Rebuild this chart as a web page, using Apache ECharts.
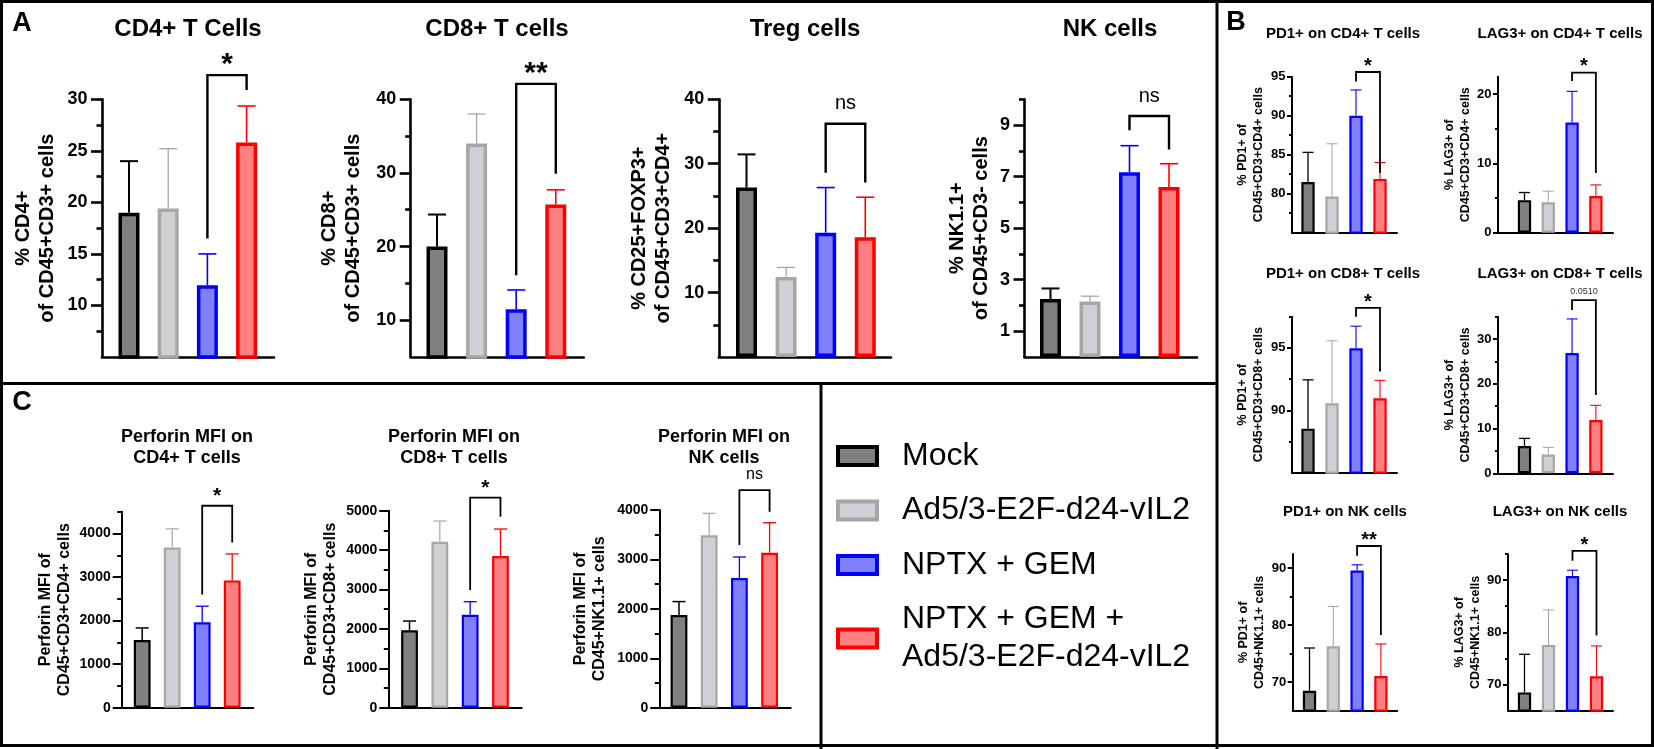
<!DOCTYPE html>
<html>
<head>
<meta charset="utf-8">
<script src="https://cdn.jsdelivr.net/npm/echarts@6/dist/echarts.min.js"></script>
<style>html,body{margin:0;padding:0;background:#fff}#c{width:1654px;height:749px}</style>
</head>
<body>
<div id="c"></div>
<script>
// ---------- DATA ----------
const groups = ['Mock', 'Ad5/3-E2F-d24-vIL2', 'NPTX + GEM', 'NPTX + GEM +\nAd5/3-E2F-d24-vIL2'];

// Panel A
const cd4Means = [19.0, 19.4, 11.95, 25.8];
const cd4Errs = [5.0, 5.8, 3.05, 3.55];
const cd4Range = [5, 30];
const cd4Ticks = [10, 15, 20, 25, 30];
const cd4Minor = [7.5, 12.5, 17.5, 22.5, 27.5];
const cd4Bracket = [32.35, 16.5, 30.9];
const cd4Sig = '*';

const cd8Means = [20.0, 34.0, 11.5, 25.7];
const cd8Errs = [4.35, 4.0, 2.6, 2.0];
const cd8Range = [5, 40];
const cd8Ticks = [10, 20, 30, 40];
const cd8Minor = [15, 25, 35];
const cd8Bracket = [42.1, 16.1, 29.9];
const cd8Sig = '**';

const tregMeans = [26.3, 12.4, 19.3, 18.6];
const tregErrs = [5.15, 1.5, 7.0, 6.2];
const tregRange = [0, 40];
const tregTicks = [10, 20, 30, 40];
const tregMinor = [5, 15, 25, 35];
const tregBracket = [36.2, 28.6, 27.1];
const tregSig = 'ns';

const nkMeans = [2.25, 2.15, 7.17, 6.6];
const nkErrs = [0.41, 0.21, 1.03, 0.9];
const nkRange = [0, 10];
const nkTicks = [1, 3, 5, 7, 9];
const nkMinor = [2, 4, 6, 8, 10];
const nkBracket = [9.35, 8.8, 8.05];
const nkSig = 'ns';

// Panel B
const pd1cd4Means = [81.5, 79.65, 90.0, 81.9];
const pd1cd4Errs = [3.8, 6.75, 3.3, 2.1];
const pd1cd4Range = [75, 95];
const pd1cd4Ticks = [80, 85, 90, 95];
const pd1cd4Minor = [77.5, 82.5, 87.5, 92.5];
const pd1cd4Bracket = [95.6, 94.4, 82.7];
const pd1cd4Sig = '*';

const lag3cd4Means = [4.7, 4.4, 15.9, 5.3];
const lag3cd4Errs = [1.1, 1.6, 4.5, 1.6];
const lag3cd4Range = [0, 22.5];
const lag3cd4Ticks = [0, 10, 20];
const lag3cd4Minor = [5, 15];
const lag3cd4Bracket = [23.1, 21.9, 8.6];
const lag3cd4Sig = '*';

const pd1cd8Means = [88.53, 90.56, 94.97, 90.96];
const pd1cd8Errs = [3.91, 5.01, 1.77, 1.44];
const pd1cd8Range = [85, 97.5];
const pd1cd8Ticks = [90, 95];
const pd1cd8Minor = [87.5, 92.5, 97.5];
const pd1cd8Bracket = [98.2, 97.5, 93.1];
const pd1cd8Sig = '*';

const lag3cd8Means = [6.1, 4.2, 26.9, 11.9];
const lag3cd8Errs = [1.7, 1.6, 7.6, 3.3];
const lag3cd8Range = [0, 35];
const lag3cd8Ticks = [0, 10, 20, 30];
const lag3cd8Minor = [5, 15, 25, 35];
const lag3cd8Bracket = [38.7, 36.5, 17.5];
const lag3cd8Sig = '0.0510';

const pd1nkMeans = [68.5, 76.3, 89.6, 71.1];
const pd1nkErrs = [7.5, 7.0, 1.0, 5.6];
const pd1nkRange = [65, 92.5];
const pd1nkTicks = [70, 80, 90];
const pd1nkMinor = [75, 85];
const pd1nkBracket = [93.9, 92.2, 78.3];
const pd1nkSig = '**';

const lag3nkMeans = [68.5, 77.6, 90.8, 71.6];
const lag3nkErrs = [7.3, 6.7, 1.1, 5.8];
const lag3nkRange = [65, 95];
const lag3nkTicks = [70, 80, 90];
const lag3nkMinor = [75, 85, 95];
const lag3nkBracket = [95.6, 93.7, 79.4];
const lag3nkSig = '*';

// Panel C
const perf4Means = [1555, 3677, 1961, 2923];
const perf4Errs = [276, 429, 369, 607];
const perf4Range = [0, 4500];
const perf4Ticks = [0, 1000, 2000, 3000, 4000];
const perf4Minor = [500, 1500, 2500, 3500, 4500];
const perf4Bracket = [4637, 2600, 3792];
const perf4Sig = '*';

const perf8Means = [1964, 4213, 2360, 3850];
const perf8Errs = [236, 525, 330, 685];
const perf8Range = [0, 5000];
const perf8Ticks = [0, 1000, 2000, 3000, 4000, 5000];
const perf8Minor = [500, 1500, 2500, 3500, 4500];
const perf8Bracket = [5330, 2987, 4848];
const perf8Sig = '*';

const perfnkMeans = [1877, 3488, 2624, 3136];
const perfnkErrs = [270, 445, 425, 607];
const perfnkRange = [0, 4000];
const perfnkTicks = [0, 1000, 2000, 3000, 4000];
const perfnkMinor = [500, 1500, 2500, 3500];
const perfnkBracket = [4404, 3292, 3965];
const perfnkSig = 'ns';

// ---------- STYLE / LAYOUT ----------
const FF = '"Liberation Sans", Arial, Helvetica, sans-serif';
const fillColors = ['#808080', '#d0d0d4', '#8080ff', '#ff8080'];
const lineColors = ['#000000', '#a6a6a6', '#0000ff', '#ff0000'];
const errColors = ['#000000', '#a0a0a0', '#0000ff', '#ff0000'];

const styleA = {barW: 21, border: 3.5, axisW: 2.6, tickLen: 11, minorLen: 5.5, labelSize: 18, labelMargin: 14.5,
  nameSize: 20, nameLH: 24, titleSize: 24, titleLH: 24, errW: [2, 1.2, 1.6, 1.6], capW: 18, brW: 2.4,
  starSize: 30, nsSize: 20, numSize: 9, gap: 16.5};
const styleB = {barW: 13.3, border: 2.2, axisW: 2, tickLen: 5, minorLen: 3, labelSize: 13, labelMargin: 6.5,
  nameSize: 12.5, nameLH: 16, titleSize: 15, titleLH: 16, errW: [1.3, 1, 1.1, 1.1], capW: 11, brW: 1.8,
  starSize: 20, nsSize: 16, numSize: 9, gap: 10};
const styleC = {barW: 16.8, border: 2.2, axisW: 2, tickLen: 9, minorLen: 4.5, labelSize: 14, labelMargin: 11,
  nameSize: 16, nameLH: 19, titleSize: 18, titleLH: 21, errW: [1.5, 1.1, 1.3, 1.3], capW: 13, brW: 1.8,
  starSize: 21, nsSize: 16, numSize: 9, gap: 13.5};

const charts = [
  {title: 'CD4+ T Cells', tx: 188, ty: 17, yName: '% CD4+\nof CD45+CD3+ cells', nameGap: 43, box: [102, 99.3, 172, 257.7], xr: [-0.689, 3.699], st: styleA,
   means: cd4Means, errs: cd4Errs, range: cd4Range, ticks: cd4Ticks, minor: cd4Minor, bracket: cd4Bracket, sig: cd4Sig},
  {title: 'CD8+ T cells', tx: 497, ty: 17, yName: '% CD8+\nof CD45+CD3+ cells', nameGap: 45, box: [410.7, 99.3, 173, 257.7], xr: [-0.664, 3.705], st: styleA,
   means: cd8Means, errs: cd8Errs, range: cd8Range, ticks: cd8Ticks, minor: cd8Minor, bracket: cd8Bracket, sig: cd8Sig},
  {title: 'Treg cells', tx: 805, ty: 17, yName: '% CD25+FOXP3+\nof CD45+CD3+CD4+', nameGap: 43.5, box: [718.8, 99.3, 172.2, 257.7], xr: [-0.70, 3.65], st: styleA,
   means: tregMeans, errs: tregErrs, range: tregRange, ticks: tregTicks, minor: tregMinor, bracket: tregBracket, sig: tregSig},
  {title: 'NK cells', tx: 1110, ty: 17, yName: '% NK1.1+\nof CD45+CD3- cells', nameGap: 31.5, box: [1024.5, 99.3, 172.5, 257.7], xr: [-0.658, 3.709], st: styleA,
   means: nkMeans, errs: nkErrs, range: nkRange, ticks: nkTicks, minor: nkMinor, bracket: nkBracket, sig: nkSig},

  {title: 'PD1+ on CD4+ T cells', tx: 1343, ty: 26, yName: '% PD1+ of\nCD45+CD3+CD4+ cells', nameGap: 25.7, box: [1292, 76.7, 105, 156], xr: [-0.667, 3.708], st: styleB,
   means: pd1cd4Means, errs: pd1cd4Errs, range: pd1cd4Range, ticks: pd1cd4Ticks, minor: pd1cd4Minor, bracket: pd1cd4Bracket, sig: pd1cd4Sig},
  {title: 'LAG3+ on CD4+ T cells', tx: 1560, ty: 26, yName: '% LAG3+ of\nCD45+CD3+CD4+ cells', nameGap: 14, box: [1498, 76.8, 115, 155.9], xr: [-1.113, 3.72], st: styleB,
   means: lag3cd4Means, errs: lag3cd4Errs, range: lag3cd4Range, ticks: lag3cd4Ticks, minor: lag3cd4Minor, bracket: lag3cd4Bracket, sig: lag3cd4Sig},
  {title: 'PD1+ on CD8+ T cells', tx: 1343, ty: 266, yName: '% PD1+ of\nCD45+CD3+CD8+ cells', nameGap: 25.7, box: [1292, 316.7, 105, 156], xr: [-0.667, 3.708], st: styleB,
   means: pd1cd8Means, errs: pd1cd8Errs, range: pd1cd8Range, ticks: pd1cd8Ticks, minor: pd1cd8Minor, bracket: pd1cd8Bracket, sig: pd1cd8Sig},
  {title: 'LAG3+ on CD8+ T cells', tx: 1560, ty: 266, yName: '% LAG3+ of\nCD45+CD3+CD8+ cells', nameGap: 14, box: [1498, 316.7, 115, 156.6], xr: [-1.113, 3.72], st: styleB,
   means: lag3cd8Means, errs: lag3cd8Errs, range: lag3cd8Range, ticks: lag3cd8Ticks, minor: lag3cd8Minor, bracket: lag3cd8Bracket, sig: lag3cd8Sig},
  {title: 'PD1+ on NK cells', tx: 1345, ty: 504, yName: '% PD1+ of\nCD45+NK1.1+ cells', nameGap: 25.4, box: [1292.7, 554, 104.5, 156.7], xr: [-0.706, 3.685], st: styleB,
   means: pd1nkMeans, errs: pd1nkErrs, range: pd1nkRange, ticks: pd1nkTicks, minor: pd1nkMinor, bracket: pd1nkBracket, sig: pd1nkSig},
  {title: 'LAG3+ on NK cells', tx: 1560, ty: 504, yName: '% LAG3+ of\nCD45+NK1.1+ cells', nameGap: 24, box: [1508, 554, 105, 156.7], xr: [-0.6875, 3.6875], st: styleB,
   means: lag3nkMeans, errs: lag3nkErrs, range: lag3nkRange, ticks: lag3nkTicks, minor: lag3nkMinor, bracket: lag3nkBracket, sig: lag3nkSig},

  {title: 'Perforin MFI on\nCD4+ T cells', tx: 187, ty: 427, yName: 'Perforin MFI of\nCD45+CD3+CD4+ cells', nameGap: 47.7, box: [121.7, 511.7, 131.6, 196], xr: [-0.683, 3.703], st: styleC,
   means: perf4Means, errs: perf4Errs, range: perf4Range, ticks: perf4Ticks, minor: perf4Minor, bracket: perf4Bracket, sig: perf4Sig},
  {title: 'Perforin MFI on\nCD8+ T cells', tx: 454, ty: 427, yName: 'Perforin MFI of\nCD45+CD3+CD8+ cells', nameGap: 48, box: [388.3, 510.7, 133.4, 197], xr: [-0.70, 3.70], st: styleC,
   means: perf8Means, errs: perf8Errs, range: perf8Range, ticks: perf8Ticks, minor: perf8Minor, bracket: perf8Bracket, sig: perf8Sig},
  {title: 'Perforin MFI on\nNK cells', tx: 724, ty: 427, yName: 'Perforin MFI of\nCD45+NK1.1+ cells', nameGap: 50, box: [659.3, 510, 131.4, 197.7], xr: [-0.652, 3.699], st: styleC,
   means: perfnkMeans, errs: perfnkErrs, range: perfnkRange, ticks: perfnkTicks, minor: perfnkMinor, bracket: perfnkBracket, sig: perfnkSig}
];

// ---------- BUILD ----------
const grid = [], xAxis = [], yAxis = [], series = [], title = [];

charts.forEach(function (c, k) {
  const s = c.st;
  grid.push({left: c.box[0], top: c.box[1], width: c.box[2], height: c.box[3], containLabel: false, outerBoundsMode: 'none'});
  xAxis.push({type: 'value', gridIndex: k, min: c.xr[0], max: c.xr[1],
    axisLine: {show: true, onZero: false, lineStyle: {color: '#000', width: s.axisW}},
    axisTick: {show: false}, axisLabel: {show: false}, splitLine: {show: false}});
  yAxis.push({type: 'value', gridIndex: k, position: 'left', min: c.range[0], max: c.range[1],
    name: c.yName, nameLocation: 'middle', nameGap: c.nameGap, nameRotate: 90,
    nameTextStyle: {fontSize: s.nameSize, fontWeight: 'bold', fontFamily: FF, color: '#000', lineHeight: s.nameLH},
    axisLine: {show: true, onZero: false, lineStyle: {color: '#000', width: s.axisW}},
    axisTick: {show: true, length: s.tickLen, customValues: c.ticks, lineStyle: {color: '#000', width: s.axisW}},
    axisLabel: {show: true, customValues: c.ticks, margin: s.labelMargin, fontSize: s.labelSize, fontWeight: 'bold',
      fontFamily: FF, color: '#000', formatter: function (v) { return String(v); }},
    splitLine: {show: false}});
  yAxis.push({type: 'value', gridIndex: k, position: 'left', min: c.range[0], max: c.range[1],
    axisLine: {show: false, onZero: false},
    axisTick: {show: true, length: s.minorLen, customValues: c.minor, lineStyle: {color: '#000', width: s.axisW}},
    axisLabel: {show: false}, splitLine: {show: false}});

  title.push({text: c.title, left: c.tx, top: c.ty, textAlign: 'center', textVerticalAlign: 'top', padding: 0,
    textStyle: {fontSize: s.titleSize, fontWeight: 'bold', fontFamily: FF, color: '#000', lineHeight: s.titleLH}});

  for (let i = 0; i < 4; i++) {
    series.push({type: 'bar', name: groups[i], xAxisIndex: k, yAxisIndex: 2 * k, data: [[i, c.means[i]]],
      barWidth: s.barW, barGap: '-100%', silent: true, z: 2,
      itemStyle: {color: fillColors[i], borderColor: lineColors[i], borderWidth: s.border}});
  }

  series.push({type: 'custom', xAxisIndex: k, yAxisIndex: 2 * k, clip: false, silent: true, z: 3,
    data: c.means.map(function (m, i) { return [i, m, m + c.errs[i]]; }),
    encode: {x: 0, y: [1, 2]},
    renderItem: function (params, api) {
      const i = params.dataIndex;
      const p0 = api.coord([api.value(0), api.value(1)]);
      const p1 = api.coord([api.value(0), api.value(2)]);
      const st = {stroke: errColors[i], lineWidth: s.errW[i]};
      return {type: 'group', children: [
        {type: 'line', shape: {x1: p0[0], y1: p0[1], x2: p1[0], y2: p1[1]}, style: st},
        {type: 'line', shape: {x1: p1[0] - s.capW / 2, y1: p1[1], x2: p1[0] + s.capW / 2, y2: p1[1]}, style: st}
      ]};
    }});

  series.push({type: 'custom', xAxisIndex: k, yAxisIndex: 2 * k, clip: false, silent: true, z: 4,
    data: [[2, 3, c.bracket[0], c.bracket[1], c.bracket[2]]],
    encode: {x: [0, 1], y: [2, 3, 4]},
    renderItem: function (params, api) {
      const a = api.coord([api.value(0), api.value(3)]);
      const b = api.coord([api.value(0), api.value(2)]);
      const d = api.coord([api.value(1), api.value(2)]);
      const e = api.coord([api.value(1), api.value(4)]);
      let F, bold, k2, col = '#000';
      if (c.sig.indexOf('*') === 0) { F = s.starSize; bold = 'bold'; k2 = 0.21; }
      else if (c.sig === 'ns') { F = s.nsSize; bold = 'normal'; k2 = -0.09; }
      else { F = s.numSize; bold = 'normal'; k2 = 0; col = '#333'; }
      const gap = c.sig === 'ns' && s === styleA ? s.gap + 1.5 : (c.sig === '0.0510' ? 8.3 : s.gap);
      return {type: 'group', children: [
        {type: 'polyline', shape: {points: [a, b, d, e]}, style: {stroke: '#000', lineWidth: s.brW, fill: null}},
        {type: 'text', style: {text: c.sig, x: (b[0] + d[0]) / 2, y: b[1] - gap + k2 * F, align: 'center', verticalAlign: 'middle',
          fontSize: F, fontWeight: bold, fontFamily: FF, fill: col}}
      ]};
    }});
});

const option = {
  animation: false,
  backgroundColor: '#ffffff',
  textStyle: {fontFamily: FF, color: '#000'},
  title: title,
  grid: grid,
  xAxis: xAxis,
  yAxis: yAxis,
  legend: {
    orient: 'vertical', left: 836, top: 437, padding: 0,
    itemWidth: 39, itemHeight: 18, itemGap: 16.5, icon: 'rect', selectedMode: false,
    itemStyle: {borderWidth: 4},
    textStyle: {fontSize: 32, fontFamily: FF, color: '#000', lineHeight: 38, padding: [0, 0, 0, 20]},
    data: groups
  },
  series: series,
  graphic: [
    {type: 'rect', silent: true, shape: {x: 1.5, y: 1.5, width: 1651, height: 744}, style: {fill: null, stroke: '#000', lineWidth: 3}},
    {type: 'line', silent: true, shape: {x1: 1217, y1: 0, x2: 1217, y2: 749}, style: {stroke: '#000', lineWidth: 3}},
    {type: 'line', silent: true, shape: {x1: 0, y1: 383.5, x2: 1217, y2: 383.5}, style: {stroke: '#000', lineWidth: 3}},
    {type: 'line', silent: true, shape: {x1: 821, y1: 383.5, x2: 821, y2: 749}, style: {stroke: '#000', lineWidth: 3}},
    {type: 'text', silent: true, x: 22, y: 24, style: {text: 'A', fontSize: 27, fontWeight: 'bold', fontFamily: FF, fill: '#000', align: 'center', verticalAlign: 'middle'}},
    {type: 'text', silent: true, x: 1236, y: 22.5, style: {text: 'B', fontSize: 27, fontWeight: 'bold', fontFamily: FF, fill: '#000', align: 'center', verticalAlign: 'middle'}},
    {type: 'text', silent: true, x: 22, y: 403, style: {text: 'C', fontSize: 27, fontWeight: 'bold', fontFamily: FF, fill: '#000', align: 'center', verticalAlign: 'middle'}}
  ]
};

const chart = echarts.init(document.getElementById('c'), null, {renderer: 'canvas'});
chart.setOption(option);
</script>
</body>
</html>
